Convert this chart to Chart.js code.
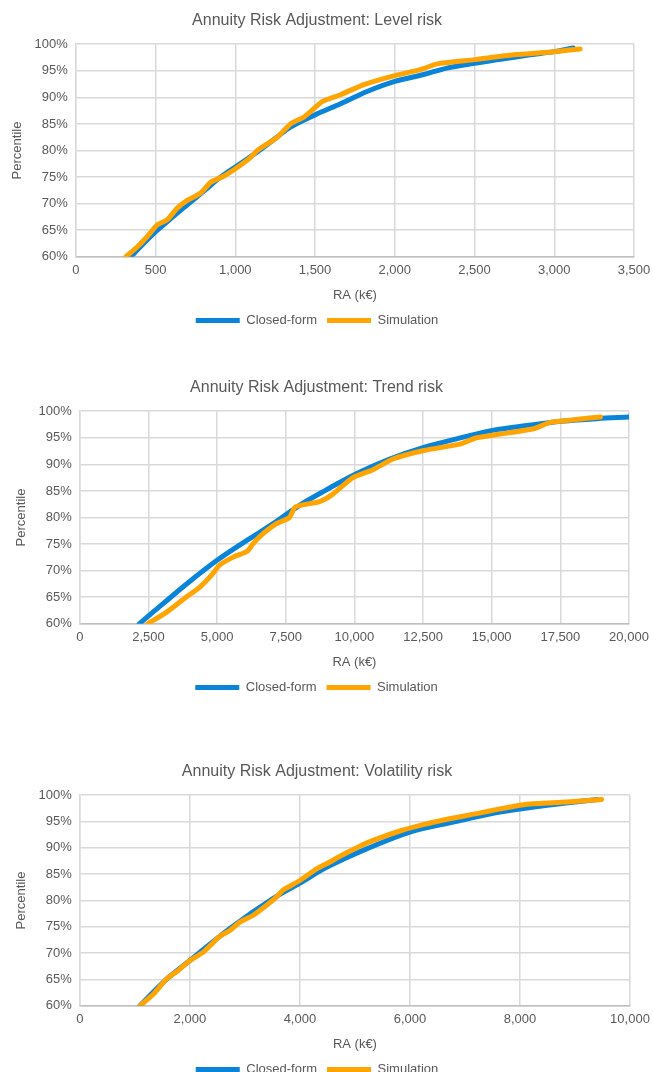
<!DOCTYPE html>
<html>
<head>
<meta charset="utf-8">
<title>Annuity Risk Adjustment</title>
<script src="https://cdn.jsdelivr.net/npm/chart.js@4.4.1/dist/chart.umd.min.js"></script>
<style>
    html, body { margin: 0; padding: 0; background: #fff; overflow: hidden; }
    .panel { position: absolute; left: 0; width: 653px; height: 340px; }
</style>
</head>
<body>
<div class="panel" style="top:0px"><canvas id="levelChart"></canvas></div>
<div class="panel" style="top:367px"><canvas id="trendChart"></canvas></div>
<div class="panel" style="top:751px"><canvas id="volChart"></canvas></div>

<script>
// ─── RA (k€) vs percentile, closed-form vs simulation ───

// Level risk
const levelClosedRA  = [344, 425, 511, 608, 708, 808, 908, 1030, 1150, 1260, 1346, 1500, 1660, 1826, 2000, 2181, 2327, 2500, 2650, 2850, 3000, 3120];
const levelClosedPct = [60, 62.5, 65, 67.5, 70, 72.5, 75, 77.5, 80, 82.5, 84.4, 86.7, 88.8, 91.1, 93, 94.3, 95.5, 96.4, 97.1, 98, 98.6, 99.3];
const levelSimRA     = [313, 376, 438, 511, 574, 637, 699, 783, 845, 929, 1012, 1096, 1138, 1263, 1346, 1430, 1471, 1545, 1660, 1806, 2000, 2160, 2265, 2500, 2744, 3000, 3162];
const levelSimPct    = [60, 61.6, 63.5, 66, 67, 69.2, 70.6, 72, 74, 75.2, 76.8, 78.7, 80, 82.5, 85, 86.3, 87.3, 89.2, 90.5, 92.4, 94.1, 95.2, 96.3, 97.1, 98, 98.6, 99.1];

// Trend risk
const trendClosedRA  = [2161, 3011, 3865, 4960, 6055, 7026, 8000, 8974, 10050, 11285, 12526, 13720, 15033, 16275, 17551, 18828, 20018];
const trendClosedPct = [60, 63.7, 67.4, 71.8, 75.6, 78.8, 82.3, 85.2, 88.2, 91, 93.2, 94.8, 96.4, 97.3, 98.1, 98.6, 98.9];
const trendSimRA     = [2464, 3135, 3865, 4350, 4836, 5080, 5566, 6113, 6296, 6661, 7146, 7635, 7850, 8730, 9215, 9945, 10675, 11405, 12526, 13840, 14450, 15310, 16526, 17135, 17986, 18960];
const trendSimPct    = [60, 62.1, 65, 66.8, 69.4, 71, 72.5, 73.7, 75, 76.9, 78.8, 80, 82, 83, 84.4, 87.5, 89, 91, 92.6, 93.8, 95, 95.7, 96.7, 97.9, 98.4, 98.9];

// Volatility risk
const volClosedRA    = [1091, 1550, 2000, 2727, 3515, 4000, 4485, 5212, 6000, 6788, 7636, 8363, 9400];
const volClosedPct   = [60, 64.8, 68.6, 74.7, 80.4, 83.3, 86.3, 89.8, 93, 94.9, 96.8, 97.9, 99.2];
const volSimRA       = [1091, 1333, 1576, 1788, 2000, 2242, 2545, 2727, 2909, 3151, 3394, 3576, 3697, 4000, 4303, 4545, 4727, 5212, 5818, 6242, 6606, 7212, 7636, 8121, 8848, 9485];
const volSimPct      = [60, 62.2, 65.1, 66.7, 68.6, 70.2, 73.2, 74.3, 75.9, 77.2, 79.1, 80.7, 82, 83.8, 86, 87.3, 88.4, 90.9, 93.2, 94.4, 95.3, 96.5, 97.4, 98.3, 98.7, 99.2];

// Axis ticks
const pctTicks = [60, 65, 70, 75, 80, 85, 90, 95, 100];

const BLUE   = '#0a84d8';
const ORANGE = '#ffa400';
const GREY_TEXT = '#595959';
const GRID = '#d9d9d9';

Chart.defaults.font.family = "'Liberation Sans', Arial, sans-serif";
Chart.defaults.color = GREY_TEXT;

function toPoints(xs, ys) {
    return xs.map(function(x, i) { return { x: x, y: ys[i] }; });
}

function makeChart(id, title, closedRA, closedPct, simRA, simPct, xMax, xStep, pad) {
    const ctx = document.getElementById(id).getContext('2d');
    return new Chart(ctx, {
        type: 'scatter',
        data: {
            datasets: [
                {
                    // drawn last -> sits on top of the closed-form line
                    label: 'Simulation',
                    data: toPoints(simRA, simPct),
                    showLine: true,
                    borderColor: ORANGE,
                    backgroundColor: ORANGE,
                    borderWidth: 5,
                    borderCapStyle: 'round',
                    borderJoinStyle: 'round',
                    pointRadius: 0,
                    tension: 0.2
                },
                {
                    label: 'Closed-form',
                    data: toPoints(closedRA, closedPct),
                    showLine: true,
                    borderColor: BLUE,
                    backgroundColor: BLUE,
                    borderWidth: 5,
                    borderCapStyle: 'round',
                    borderJoinStyle: 'round',
                    pointRadius: 0,
                    tension: 0.35
                }
            ]
        },
        options: {
            responsive: true,
            maintainAspectRatio: false,
            animation: false,
            layout: { padding: pad },
            plugins: {
                title: {
                    display: true,
                    text: title,
                    color: GREY_TEXT,
                    font: { size: 16, weight: 'normal' },
                    padding: { top: 11, bottom: 14 }
                },
                legend: {
                    position: 'bottom',
                    reverse: true,
                    labels: {
                        usePointStyle: true,
                        pointStyle: 'line',
                        pointStyleWidth: 44,
                        color: GREY_TEXT,
                        font: { size: 13 },
                        padding: 10
                    }
                },
                tooltip: { enabled: false }
            },
            scales: {
                x: {
                    type: 'linear',
                    min: 0,
                    max: xMax,
                    grid: { color: GRID, lineWidth: 1.5, drawTicks: false },
                    border: { color: '#bfbfbf', width: 1.5 },
                    // last tick label may run into the layout padding
                    afterFit: function(scale) { scale.paddingRight = 0; },
                    ticks: {
                        stepSize: xStep,
                        padding: 6,
                        font: { size: 13 },
                        color: GREY_TEXT,
                        callback: function(v) { return v.toLocaleString('en-US'); }
                    },
                    title: {
                        display: true,
                        text: 'RA (k€)',
                        color: GREY_TEXT,
                        font: { size: 13 },
                        padding: { top: 3, bottom: 1 }
                    }
                },
                y: {
                    min: pctTicks[0],
                    max: pctTicks[pctTicks.length - 1],
                    grid: { color: GRID, lineWidth: 1.5, drawTicks: false },
                    border: { color: GRID, width: 1.5 },
                    afterBuildTicks: function(axis) {
                        axis.ticks = pctTicks.map(function(v) { return { value: v }; });
                    },
                    ticks: {
                        padding: 8,
                        font: { size: 13 },
                        color: GREY_TEXT,
                        callback: function(v) { return v + '%'; }
                    },
                    title: {
                        display: true,
                        text: 'Percentile',
                        color: GREY_TEXT,
                        font: { size: 13 },
                        padding: { top: 10, bottom: 1 }
                    }
                }
            }
        }
    });
}

makeChart('levelChart', 'Annuity Risk Adjustment: Level risk',
    levelClosedRA, levelClosedPct, levelSimRA, levelSimPct, 3500, 500,
    { left: 0, right: 19, top: 0, bottom: 3 });
makeChart('trendChart', 'Annuity Risk Adjustment: Trend risk',
    trendClosedRA, trendClosedPct, trendSimRA, trendSimPct, 20000, 2500,
    { left: 4, right: 24, top: 0, bottom: 3 });
makeChart('volChart', 'Annuity Risk Adjustment: Volatility risk',
    volClosedRA, volClosedPct, volSimRA, volSimPct, 10000, 2000,
    { left: 4, right: 23, top: 0, bottom: 5 });
</script>
</body>
</html>
